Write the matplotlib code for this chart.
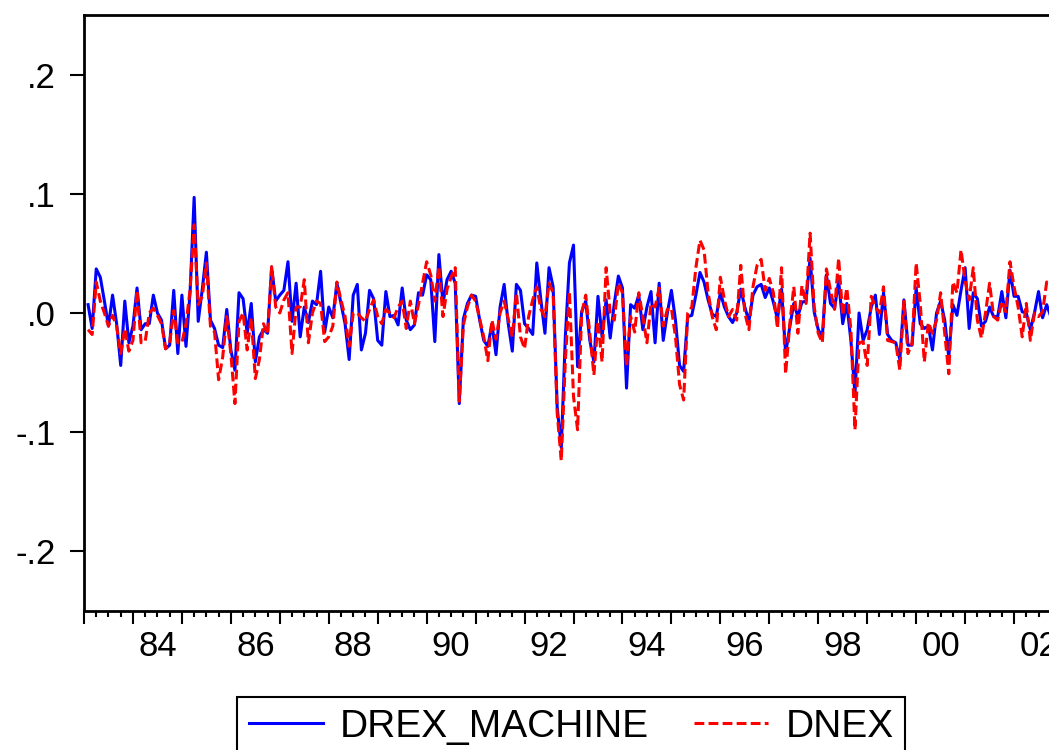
import numpy as np
import pandas as pd
import matplotlib
matplotlib.use('Agg')
import matplotlib.pyplot as plt

plt.rcParams['font.family'] = ['Liberation Sans', 'DejaVu Sans']

# monthly series, 1983M02 onwards
start = '1983-02'
drex_machine = [
    0.007, -0.013, 0.037, 0.030, 0.010, -0.011, 0.015, -0.009, -0.044, 0.010,
    -0.025, -0.011, 0.021, -0.014, -0.009, -0.009, 0.015, 0.000, -0.006, -0.030,
    -0.027, 0.019, -0.034, 0.015, -0.028, 0.017, 0.097, -0.007, 0.020, 0.051,
    -0.006, -0.013, -0.027, -0.029, 0.003, -0.031, -0.048, 0.017, 0.012, -0.017,
    0.008, -0.041, -0.020, -0.014, -0.017, 0.038, 0.010, 0.015, 0.019, 0.043,
    -0.007, 0.025, -0.020, 0.005, -0.008, 0.010, 0.007, 0.035, -0.016, 0.005,
    -0.004, 0.025, 0.008, -0.009, -0.039, 0.015, 0.024, -0.031, -0.017, 0.019,
    0.012, -0.023, -0.027, 0.018, -0.003, -0.002, -0.010, 0.021, -0.006, -0.014,
    -0.010, 0.017, 0.015, 0.032, 0.028, -0.024, 0.049, 0.008, 0.028, 0.035,
    0.025, -0.076, -0.005, 0.008, 0.015, 0.014, -0.006, -0.023, -0.028, -0.009,
    -0.035, 0.005, 0.024, -0.009, -0.032, 0.024, 0.019, -0.009, -0.013, -0.018,
    0.042, 0.011, -0.017, 0.038, 0.022, -0.079, -0.113, -0.020, 0.042, 0.057,
    -0.045, 0.001, 0.010, -0.023, -0.041, 0.014, -0.020, 0.011, -0.021, 0.008,
    0.031, 0.021, -0.063, 0.007, 0.004, 0.015, -0.014, 0.005, 0.018, -0.025,
    0.025, -0.023, 0.000, 0.019, -0.006, -0.044, -0.049, -0.003, -0.002, 0.015,
    0.034, 0.026, 0.011, -0.001, -0.003, 0.017, 0.005, -0.003, -0.008, 0.000,
    0.020, 0.005, -0.007, 0.015, 0.022, 0.024, 0.013, 0.021, 0.009, -0.005,
    0.020, -0.034, -0.012, 0.008, -0.003, 0.009, 0.010, 0.046, 0.001, -0.014,
    -0.020, 0.032, 0.008, 0.004, 0.027, -0.009, 0.008, -0.023, -0.068, 0.000,
    -0.023, -0.014, 0.005, 0.015, -0.018, 0.017, -0.018, -0.023, -0.025, -0.039,
    0.011, -0.027, -0.027, 0.021, -0.009, -0.013, -0.011, -0.031, 0.000, 0.010,
    -0.006, -0.037, 0.007, -0.002, 0.019, 0.038, -0.013, 0.017, 0.012, -0.011,
    -0.007, 0.005, -0.003, -0.003, 0.018, -0.004, 0.036, 0.014, 0.014, 0.001,
    0.000, -0.014, 0.000, 0.018, -0.004, 0.007, -0.003,
]
dnex = [
    -0.014, -0.018, 0.026, 0.010, 0.000, -0.011, -0.002, -0.011, -0.034, -0.013,
    -0.032, -0.023, 0.019, -0.025, -0.024, 0.000, 0.004, -0.002, -0.009, -0.030,
    -0.025, 0.002, -0.025, -0.025, -0.009, 0.019, 0.074, 0.007, 0.014, 0.042,
    -0.011, -0.016, -0.056, -0.037, -0.003, -0.034, -0.076, -0.007, 0.000, -0.031,
    -0.004, -0.055, -0.039, -0.009, -0.018, 0.039, 0.005, 0.000, 0.011, 0.017,
    -0.034, 0.005, 0.005, 0.028, -0.025, 0.000, 0.010, 0.008, -0.024, -0.020,
    -0.011, 0.026, 0.011, -0.003, -0.028, 0.000, 0.000, -0.004, -0.007, 0.003,
    0.011, -0.003, -0.009, 0.003, 0.000, -0.004, 0.005, 0.010, -0.013, 0.010,
    -0.009, 0.007, 0.025, 0.043, 0.032, 0.010, 0.039, -0.003, 0.020, 0.030,
    0.038, -0.074, -0.010, 0.005, 0.015, 0.010, -0.005, -0.020, -0.040, -0.006,
    -0.022, 0.000, 0.010, -0.005, -0.020, 0.017, -0.020, -0.030, -0.003, 0.011,
    0.022, 0.003, -0.003, 0.025, 0.017, -0.084, -0.124, -0.040, 0.018, -0.070,
    -0.098, 0.000, 0.015, -0.017, -0.052, -0.007, -0.041, 0.038, 0.000, -0.006,
    0.025, 0.017, -0.045, -0.003, -0.016, 0.017, -0.003, -0.025, 0.008, 0.005,
    0.021, -0.011, 0.003, 0.004, -0.020, -0.060, -0.073, 0.000, 0.005, 0.038,
    0.061, 0.053, 0.017, -0.003, -0.014, 0.030, 0.011, -0.003, 0.003, -0.006,
    0.040, 0.000, -0.014, 0.022, 0.040, 0.045, 0.019, 0.029, 0.017, -0.013,
    0.038, -0.051, -0.010, 0.022, -0.017, 0.023, 0.008, 0.067, 0.005, -0.017,
    -0.025, 0.037, 0.019, 0.003, 0.046, -0.002, 0.021, -0.014, -0.098, -0.025,
    -0.024, -0.044, 0.014, 0.005, 0.000, 0.022, -0.023, -0.024, -0.025, -0.048,
    0.010, -0.034, -0.025, 0.042, 0.008, -0.041, -0.008, -0.017, -0.006, 0.017,
    -0.017, -0.051, 0.026, 0.017, 0.053, 0.027, 0.011, 0.038, -0.006, -0.021,
    0.000, 0.025, -0.003, -0.006, 0.010, 0.001, 0.043, 0.022, 0.005, -0.020,
    0.008, -0.023, 0.000, -0.003, 0.001, 0.026, 0.024,
]

y_ticks = [-0.2, -0.1, 0.0, 0.1, 0.2]
y_labels = ['-.2', '-.1', '.0', '.1', '.2']
label_years = list(range(1984, 2003, 2))
x_labels = ['%02d' % (y % 100) for y in label_years]

# decimal-year positions for each month
months = pd.period_range(start, periods=len(drex_machine), freq='M')
t = months.year + (months.month - 1) / 12.0

fig = plt.figure(figsize=(10.49, 7.5), dpi=100)
ax = fig.add_axes([84 / 1049, 139 / 750, 979 / 1049, 596 / 750])

ax.plot(t, drex_machine, color='#0000FF', lw=2.2, label='DREX_MACHINE')
ax.plot(t, dnex, color='#FF0000', lw=2.2, dashes=(3.2, 1.4), label='DNEX')

ax.set_xlim(1983, 2003)
ax.set_ylim(-0.25, 0.25)

for s in ax.spines.values():
    s.set_linewidth(2)

ax.set_yticks(y_ticks)
ax.set_yticklabels(y_labels)
ax.tick_params(axis='y', direction='out', length=10, width=1.5, pad=10, labelsize=25)

# year ticks (long) and quarter ticks (short), labels at mid-year
ax.set_xticks(np.arange(1983, 2004))
ax.set_xticklabels([])
ax.set_xticks(np.arange(1983, 2003.01, 0.25), minor=True)
ax.tick_params(axis='x', which='major', direction='out', length=9, width=1.5)
ax.tick_params(axis='x', which='minor', direction='out', length=4.5, width=1.5)

sec = ax.secondary_xaxis('bottom')
sec.set_xticks([y + 0.5 for y in label_years])
sec.set_xticklabels(x_labels)
sec.tick_params(length=0, pad=14, labelsize=25)
sec.spines['bottom'].set_visible(False)

leg = fig.legend(loc='upper left', bbox_to_anchor=(237 / 1049, 53 / 750), ncol=2,
                 fontsize=28, frameon=True, fancybox=False, framealpha=1,
                 edgecolor='black', borderaxespad=0, handlelength=1.9,
                 handletextpad=0.45, columnspacing=1.15, borderpad=0.3)
leg.get_frame().set_linewidth(1.5)

fig.savefig('out.png', dpi=100)
